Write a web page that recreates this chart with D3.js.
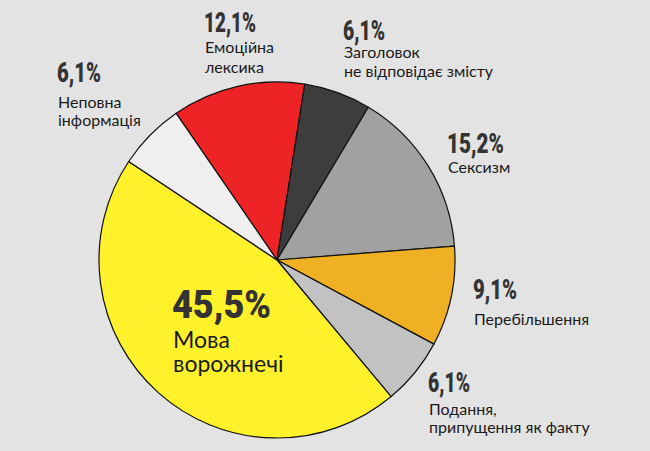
<!DOCTYPE html>
<html><head><meta charset="utf-8">
<script src="https://cdn.jsdelivr.net/npm/d3@7"></script>
<style>
html,body{margin:0;padding:0;background:#e3e3e3;}
svg{display:block;}
.pct{font-family:Roboto,"DejaVu Sans",sans-serif;font-weight:900;fill:#333;}
.lbl{font-family:Lato,"Open Sans",sans-serif;fill:#1a1a1a;}
</style></head>
<body>
<svg id="c" width="650" height="451"></svg>
<script>
const categories = ["Емоційна лексика","Заголовок не відповідає змісту","Сексизм","Перебільшення","Подання, припущення як факту","Мова ворожнечі","Неповна інформація"];
const values = [12.1, 6.1, 15.2, 9.1, 6.1, 45.5, 6.1];
const pctLabels = ["12,1%","6,1%","15,2%","9,1%","6,1%","45,5%","6,1%"];
const labelLines = [["Емоційна","лексика"],["Заголовок","не відповідає змісту"],["Сексизм"],["Перебільшення"],["Подання,","припущення як факту"],["Мова","ворожнечі"],["Неповна","інформація"]];
const colors = ["#ee2326","#3d3d3d","#a1a1a1","#f0b024","#c2c2c2","#fff22b","#efefef"];

const svg = d3.select("#c");
const cx = 277, cy = 260, r = 178;
const startA = -34.5 * Math.PI / 180;
const pie = d3.pie().sort(null).value(d => d).startAngle(startA).endAngle(startA + 2 * Math.PI);
const arc = d3.arc().innerRadius(0).outerRadius(r);
const g = svg.append("g").attr("transform", `translate(${cx},${cy})`);
g.selectAll("path").data(pie(values)).join("path")
  .attr("d", arc).attr("fill", (d, i) => colors[i])
  .attr("stroke", "#111").attr("stroke-width", 1.2).attr("stroke-linejoin", "round");

// label layout: [x, pct baseline, pct size, pct width, text size, first text baseline, line gap]
const layout = [
  [204, 32, 27, 52, 16, 53, 19.5],
  [343, 40, 27, 42, 16, 58, 19],
  [447, 153, 27, 57, 16, 173, 19],
  [473, 299, 27, 44, 16, 325, 19],
  [428, 392, 27, 42, 16, 415, 18],
  [172, 318, 39, 99, 23, 348, 24],
  [57, 82, 27, 44, 16, 108, 18]
];
const lg = svg.append("g");
layout.forEach((p, i) => {
  lg.append("text").attr("class", "pct").attr("x", p[0]).attr("y", p[1])
    .attr("font-size", p[2]).attr("textLength", p[3]).attr("lengthAdjust", "spacingAndGlyphs")
    .text(pctLabels[i]);
  labelLines[i].forEach((t, j) => {
    lg.append("text").attr("class", "lbl").attr("x", p[0] + 1).attr("y", p[5] + j * p[6])
      .attr("font-size", p[4]).text(t);
  });
});
</script>
</body></html>
